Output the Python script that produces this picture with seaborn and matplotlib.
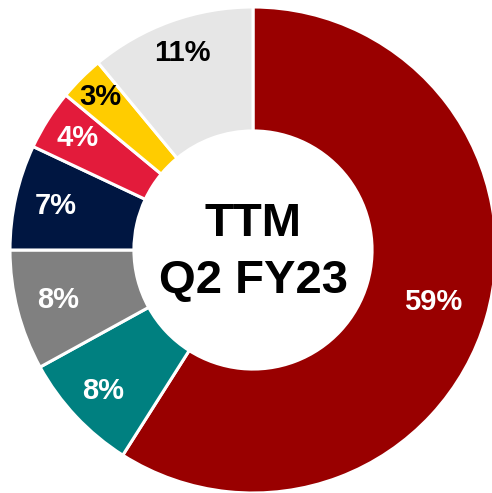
import matplotlib
matplotlib.use("Agg")
import numpy as np
import matplotlib.pyplot as plt
import seaborn as sns

# slice data, clockwise from 12 o'clock
shares = [59, 8, 8, 7, 4, 3, 11]
colors = ["#990000", "#008080", "#808080", "#001641", "#E31B3B", "#FFCC00", "#E6E6E6"]
label_colors = ["white", "white", "white", "white", "white", "black", "black"]
label_radius = [0.77, 0.845, 0.83, 0.83, 0.857, 0.89, 0.86]
center_text = "TTM\nQ2 FY23"

sns.set_theme(style="white")
plt.rcParams["font.family"] = ["Liberation Sans", "DejaVu Sans"]

fig = plt.figure(figsize=(4.92, 4.93), dpi=100)
ax = fig.add_axes([0, 0, 1, 1])

wedges, texts, autotexts = ax.pie(
    shares,
    colors=colors,
    startangle=90,
    counterclock=False,
    radius=1.0,
    autopct=lambda p: f"{p:.0f}%",
    pctdistance=0.76,
    wedgeprops=dict(width=0.51, edgecolor="white", linewidth=2.2),
    textprops=dict(fontsize=21, fontweight="bold"),
)
for w, t, c, r in zip(wedges, autotexts, label_colors, label_radius):
    ang = np.deg2rad((w.theta1 + w.theta2) / 2)
    t.set_position((r * np.cos(ang), r * np.sin(ang)))
    t.set_color(c)

ax.text(0, -0.01, center_text, ha="center", va="center", fontsize=34,
        fontweight="bold", color="black", linespacing=1.38)

# map the pie so that it sits like the reference (partly cut on the right)
ax.set_aspect("auto")
ax.set_xlim(-253 / 243, (492 - 253) / 243)
ax.set_ylim(-(493 - 250) / 243, 250 / 243)
ax.axis("off")

fig.savefig("out.png", dpi=100)
